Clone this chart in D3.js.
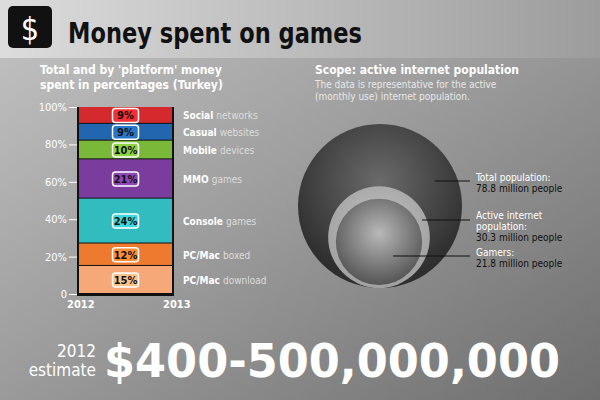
<!DOCTYPE html>
<html><head><meta charset="utf-8">
<script src="https://cdn.jsdelivr.net/npm/d3@7"></script>
<style>body{margin:0;background:#888}text{font-family:"DejaVu Sans Condensed","DejaVu Sans",sans-serif}</style>
</head><body><svg id="chart"></svg>
<script>
const segments = ['PC/Mac download', 'PC/Mac boxed', 'Console games', 'MMO games', 'Mobile devices', 'Casual websites', 'Social networks'];
const boldWords = ['PC/Mac', 'PC/Mac', 'Console', 'MMO', 'Mobile', 'Casual', 'Social'];
const restWords = ['download', 'boxed', 'games', 'games', 'devices', 'websites', 'networks'];
const shares = [15, 12, 24, 21, 10, 9, 9];
const colors = ['#f6a878', '#ee7a30', '#33bcc0', '#7a3d9e', '#7ab83a', '#2366b0', '#d42a2e'];
const yTicks = [0, 20, 40, 60, 80, 100];
const popLabels = [['Total population:', '78.8 million people'], ['Active internet', 'population:', '30.3 million people'], ['Gamers:', '21.8 million people']];
const popValues = [78.8, 30.3, 21.8];

const W = 600, H = 400;
const svg = d3.select('#chart').attr('width', W).attr('height', H);
const defs = svg.append('defs');
const bg = defs.append('linearGradient').attr('id', 'bg').attr('x1', 0).attr('y1', 0).attr('x2', 1).attr('y2', 1);
bg.append('stop').attr('offset', 0).attr('stop-color', '#c4c4c4');
bg.append('stop').attr('offset', 0.5).attr('stop-color', '#9a9a9a');
bg.append('stop').attr('offset', 1).attr('stop-color', '#6e6e6e');
svg.append('rect').attr('width', W).attr('height', H).attr('fill', 'url(#bg)');
const hd = defs.append('linearGradient').attr('id', 'hd');
hd.append('stop').attr('offset', 0).attr('stop-color', '#dcdcdc');
hd.append('stop').attr('offset', 1).attr('stop-color', '#9c9c9c');
svg.append('rect').attr('width', W).attr('height', 58).attr('fill', 'url(#hd)');

// header
svg.append('rect').attr('x', 8).attr('y', 6).attr('width', 44).attr('height', 42).attr('rx', 5).attr('fill', '#111');
svg.append('text').attr('x', 30).attr('y', 40).attr('text-anchor', 'middle').attr('fill', '#fff')
	.style('font-size', '32px').text('$');
svg.append('text').attr('x', 68).attr('y', 43).attr('fill', '#111').style('font-size', '28px')
	.style('font-weight', 'bold').attr('textLength', 294).attr('lengthAdjust', 'spacingAndGlyphs').text('Money spent on games');

// bar chart
svg.append('text').attr('x', 40).attr('y', 74).attr('fill', '#fff').style('font-size', '12px').style('font-weight', 'bold')
	.text("Total and by 'platform' money");
svg.append('text').attr('x', 40).attr('y', 89).attr('fill', '#fff').style('font-size', '12px').style('font-weight', 'bold')
	.text('spent in percentages (Turkey)');

const x0 = 79, x1 = 172;
const y = d3.scaleLinear().domain([0, 100]).range([294, 107]);
const axis = svg.append('g').attr('transform', `translate(${x0 - 2},0)`)
	.call(d3.axisLeft(y).tickValues(yTicks).tickSize(8).tickFormat(d => d === 0 ? '0' : d + '%'));
axis.select('.domain').remove();
axis.selectAll('line').attr('stroke', '#fff');
axis.selectAll('text').attr('fill', '#fff').style('font-size', '11px').attr('x', -10);

let acc = 0;
const stack = shares.map((v, i) => { const d = { i, v, y0: acc, y1: acc + v }; acc += v; return d; });
svg.append('rect').attr('x', x0 - 2).attr('y', y(100)).attr('width', x1 - x0 + 4).attr('height', y(0) - y(100) + 2).attr('fill', '#111');
const seg = svg.selectAll('.seg').data(stack).join('g');
seg.append('rect').attr('x', x0).attr('y', d => y(d.y1)).attr('width', x1 - x0)
	.attr('height', d => y(d.y0) - y(d.y1) - 1).attr('fill', d => colors[d.i]);
seg.append('rect').attr('x', (x0 + x1) / 2 - 13).attr('y', d => y((d.y0 + d.y1) / 2) - 7)
	.attr('width', 26).attr('height', 14).attr('rx', 3)
	.attr('fill', d => d3.rgb(colors[d.i]).brighter(0.4)).attr('stroke', '#fff').attr('stroke-width', 1.5);
seg.append('text').attr('x', (x0 + x1) / 2).attr('y', d => y((d.y0 + d.y1) / 2) + 4)
	.attr('text-anchor', 'middle').style('font-size', '11px').style('font-weight', 'bold').attr('fill', '#111')
	.text(d => d.v + '%');
const lab = seg.append('text').attr('x', 183).attr('y', d => y((d.y0 + d.y1) / 2) + 4).style('font-size', '10px');
lab.append('tspan').attr('fill', '#fff').style('font-weight', 'bold').text(d => boldWords[d.i] + ' ');
lab.append('tspan').attr('fill', '#ddd').text(d => restWords[d.i]);
svg.append('text').attr('x', 67).attr('y', 308).attr('fill', '#fff').style('font-size', '11px').style('font-weight', 'bold').text('2012');
svg.append('text').attr('x', 163).attr('y', 308).attr('fill', '#fff').style('font-size', '11px').style('font-weight', 'bold').text('2013');

// circles
svg.append('text').attr('x', 315).attr('y', 74).attr('fill', '#fff').style('font-size', '12px').style('font-weight', 'bold')
	.text('Scope: active internet population');
svg.append('text').attr('x', 315).attr('y', 88).attr('fill', '#e8e8e8').style('font-size', '10px')
	.text('The data is representative for the active');
svg.append('text').attr('x', 315).attr('y', 100).attr('fill', '#e8e8e8').style('font-size', '10px')
	.text('(monthly use) internet population.');

const r = d3.scaleSqrt().domain([0, 78.8]).range([0, 82]);
const fills = [['#6a6a6a', '#2e2e2e'], ['#c0c0c0', '#a0a0a0'], ['#b8b8b8', '#555']];
fills.forEach((f, i) => {
	const g = defs.append('radialGradient').attr('id', 'c' + i).attr('cx', 0.5).attr('cy', i === 0 ? 0.35 : 0.4).attr('r', 0.6);
	g.append('stop').attr('offset', 0).attr('stop-color', f[0]);
	g.append('stop').attr('offset', 1).attr('stop-color', f[1]);
});
const baseY = 288, cx = 380;
svg.selectAll('.pop').data(popValues).join('circle')
	.attr('cx', (d, i) => cx - (i === 0 ? 0 : 1)).attr('cy', (d, i) => baseY - r(d) - (i === 2 ? 3 : 0)).attr('r', d => r(d))
	.attr('fill', (d, i) => `url(#c${i})`);
const leaderY = [181, 220, 256];
const leaderX = [435, 422, 393];
leaderY.forEach((ly, i) => {
	svg.append('line').attr('x1', leaderX[i]).attr('x2', 470).attr('y1', ly).attr('y2', ly).attr('stroke', '#111').attr('stroke-width', 1.2);
	const t = svg.append('text').attr('x', 476).attr('y', ly - (popLabels[i].length === 3 ? 1 : 0)).style('font-size', '10px');
	popLabels[i].forEach((s, k) => {
		t.append('tspan').attr('x', 476).attr('dy', k === 0 ? 0 : 11)
			.attr('fill', k === popLabels[i].length - 1 ? '#111' : '#fff').text(s);
	});
});

// estimate
svg.append('text').attr('x', 96).attr('y', 357).attr('text-anchor', 'end').attr('fill', '#fff').style('font-size', '17px').text('2012');
svg.append('text').attr('x', 96).attr('y', 376).attr('text-anchor', 'end').attr('fill', '#fff').style('font-size', '17px').text('estimate');
svg.append('text').attr('x', 104).attr('y', 377).attr('fill', '#fff').style('font-size', '46px').style('font-weight', 'bold')
	.attr('textLength', 456).attr('lengthAdjust', 'spacingAndGlyphs').text('$400-500,000,000');
</script></body></html>
